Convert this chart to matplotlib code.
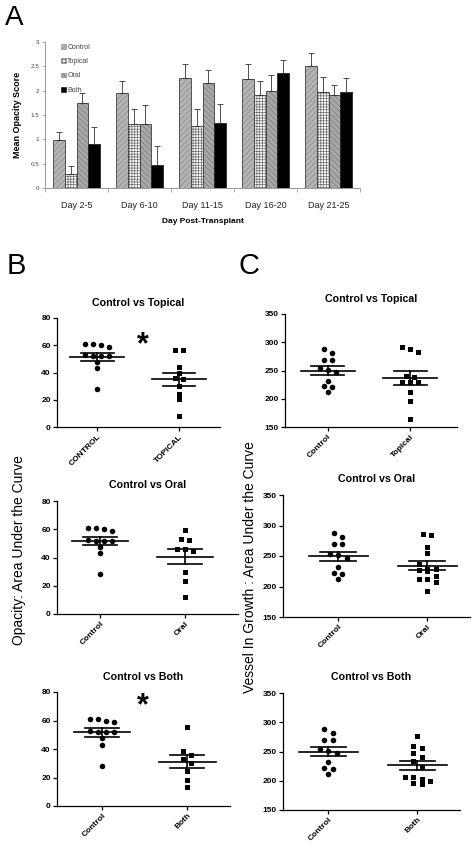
import numpy as np
import matplotlib
matplotlib.use("Agg")
import matplotlib.pyplot as plt
from matplotlib.patches import Patch

plt.rcParams['font.family'] = ['Liberation Sans', 'DejaVu Sans']
plt.rcParams['hatch.linewidth'] = 0.5

W, H = 476, 848

# ---- panel A: mean opacity score per period ----
days = ["Day 2-5", "Day 6-10", "Day 11-15", "Day 16-20", "Day 21-25"]
groups = ["Control", "Topical", "Oral", "Both"]
control_mean = [0.98, 1.96, 2.26, 2.25, 2.51]
topical_mean = [0.29, 1.32, 1.27, 1.92, 1.97]
oral_mean = [1.75, 1.32, 2.16, 2.00, 1.91]
both_mean = [0.90, 0.48, 1.33, 2.36, 1.97]
control_err = [0.17, 0.24, 0.29, 0.30, 0.26]
topical_err = [0.17, 0.30, 0.36, 0.28, 0.31]
oral_err = [0.20, 0.39, 0.26, 0.32, 0.21]
both_err = [0.35, 0.38, 0.40, 0.28, 0.29]

# ---- panel B: opacity AUC ----
opacity_control = [61, 61, 60, 59, 52.5, 52, 52, 52, 47.5, 43, 28]
opacity_topical = [56.6, 56.6, 44.3, 39.9, 35.7, 35, 30.3, 24.4, 20.4, 8.1]
opacity_oral = [59.2, 53, 52.1, 46, 46, 44.8, 30, 23.1, 12]
opacity_both = [55.4, 38.4, 35.6, 32.7, 30.2, 24.3, 18.5, 13.3]

# ---- panel C: vessel in-growth AUC ----
vessel_control = [288, 281, 269, 269, 254, 251, 247, 232, 222, 220, 212]
vessel_topical = [292, 288, 283, 240, 239, 230, 230, 230, 212, 196, 165]
vessel_oral = [286, 285, 265, 255, 237, 229, 228, 227, 226, 218, 213, 212, 208, 192]
vessel_both = [277, 260, 256, 247, 241, 233, 224, 207, 206, 203, 200, 197, 194]


def px_axes(fig, left, top, right, bottom):
    return fig.add_axes([left / W, 1 - bottom / H, (right - left) / W, (bottom - top) / H])


def swarm(vals, bin_w, dx):
    # spread points with close values side by side, like a scatter dot plot
    vals = np.asarray(vals, dtype=float)
    order = np.argsort(-vals)
    offs = np.zeros(len(vals))
    i = 0
    while i < len(order):
        j = i
        while j + 1 < len(order) and vals[order[i]] - vals[order[j + 1]] <= bin_w:
            j += 1
        n = j - i + 1
        offs[order[i:j + 1]] = (np.arange(n) - (n - 1) / 2) * dx
        i = j + 1
    return offs


fig = plt.figure(figsize=(W / 100, H / 100), dpi=100)

# ---------------- Panel A ----------------
ax = px_axes(fig, 45, 42, 360, 188)
x = np.arange(len(days))
bw = 0.185
means = [control_mean, topical_mean, oral_mean, both_mean]
errs = [control_err, topical_err, oral_err, both_err]
faces = ['#b4b4b4', 'white', '#a8a8a8', 'black']
hatches = ['//////', '++++++', '\\\\\\\\\\\\', None]
hcols = ['#8a8a8a', '#6a6a6a', '#7a7a7a', 'black']
for k in range(4):
    xs = x + (k - 1.5) * bw
    ax.bar(xs, means[k], width=bw, color=faces[k], hatch=hatches[k],
           edgecolor=hcols[k], linewidth=0.4, label=groups[k])
    ax.bar(xs, means[k], width=bw, fill=False, edgecolor='#333333', linewidth=0.5)
    ax.errorbar(xs, means[k], yerr=[np.zeros(5), errs[k]], fmt='none',
                ecolor='#333333', elinewidth=0.6, capsize=2, capthick=0.6)
ax.set_xlim(-0.5, 4.5)
ax.set_ylim(0, 3)
ax.set_yticks([0, 0.5, 1, 1.5, 2, 2.5, 3])
ax.set_yticklabels(['0', '0.5', '1', '1.5', '2', '2.5', '3'])
ax.set_xticks(x)
ax.set_xticklabels(days)
ax.set_xticks(np.arange(-0.5, 5, 1), minor=True)
ax.tick_params(axis='x', which='major', length=0, labelsize=6.5, pad=9, colors='#222222')
ax.tick_params(axis='x', which='minor', length=3, width=0.5, color='#888888')
ax.tick_params(axis='y', length=2, width=0.5, labelsize=4.5, pad=2, color='#888888',
               labelcolor='#444444')
for s in ['top', 'right']:
    ax.spines[s].set_visible(False)
for s in ['left', 'bottom']:
    ax.spines[s].set_color('#888888')
    ax.spines[s].set_linewidth(0.6)
ax.set_ylabel('Mean Opacity Score', fontsize=6.5, fontweight='bold', labelpad=6)
ax.set_xlabel('Day Post-Transplant', fontsize=6, fontweight='bold', labelpad=6)
handles = [Patch(facecolor=faces[k], hatch=hatches[k], edgecolor=hcols[k], linewidth=0.4)
           for k in range(4)]
ax.legend(handles, groups, loc='upper left', bbox_to_anchor=(0.03, 1.03), frameon=False,
          fontsize=5, handlelength=0.7, handleheight=0.7, labelspacing=1.05,
          handletextpad=0.25, labelcolor='#444444')

fig.text(5 / W, 1 - 5 / H, 'A', fontsize=20, va='top', ha='left')
fig.text(7 / W, 1 - 252 / H, 'B', fontsize=21, va='top', ha='left')
fig.text(239 / W, 1 - 252 / H, 'C', fontsize=21, va='top', ha='left')


def scatter_panel(box, xlim, title, cats, left_vals, right_vals, ylim, yticks, bin_w, star=None):
    a = px_axes(fig, *box)
    for pos, vals, mk, ms in [(1, left_vals, 'o', 4.0), (2, right_vals, 's', 3.6)]:
        offs = swarm(vals, bin_w, 0.095)
        a.plot(pos + offs, vals, linestyle='none', marker=mk, markersize=ms,
               color='black', markeredgewidth=0, clip_on=False)
        m = np.mean(vals)
        sem = np.std(vals, ddof=1) / np.sqrt(len(vals))
        a.plot([pos - 0.33, pos + 0.33], [m, m], color='black', lw=1.2)
        a.plot([pos - 0.2, pos + 0.2], [m + sem, m + sem], color='black', lw=1.2)
        a.plot([pos - 0.2, pos + 0.2], [m - sem, m - sem], color='black', lw=1.2)
        a.plot([pos, pos], [m - sem, m + sem], color='black', lw=1.2)
    a.set_xlim(*xlim)
    a.set_ylim(*ylim)
    a.set_yticks(yticks)
    a.set_xticks([1, 2])
    a.set_xticklabels(cats, rotation=45, ha='right', va='top', rotation_mode='anchor')
    for s in ['top', 'right']:
        a.spines[s].set_visible(False)
    for s in ['left', 'bottom']:
        a.spines[s].set_linewidth(0.9)
    a.tick_params(length=3, width=0.9, labelsize=6, pad=1.5)
    for lab in a.get_xticklabels() + a.get_yticklabels():
        lab.set_fontweight('bold')
    a.set_title(title, fontsize=7.7, fontweight='bold', pad=9)
    if star is not None:
        a.text(star[0], star[1], '*', fontsize=22, fontweight='bold', ha='center', va='center')
    return a


scatter_panel((57, 318, 220, 427), (0.51, 2.5), 'Control vs Topical', ['CONTROL', 'TOPICAL'],
              opacity_control, opacity_topical, (0, 80), [0, 20, 40, 60, 80], 3.5, star=(1.56, 60))
scatter_panel((57, 501, 238, 614), (0.49, 2.62), 'Control vs Oral', ['Control', 'Oral'],
              opacity_control, opacity_oral, (0, 80), [0, 20, 40, 60, 80], 3.5)
scatter_panel((57, 692, 230, 806), (0.47, 2.5), 'Control vs Both', ['Control', 'Both'],
              opacity_control, opacity_both, (0, 80), [0, 20, 40, 60, 80], 3.5, star=(1.48, 70))

scatter_panel((285, 314, 457, 427), (0.48, 2.57), 'Control vs Topical', ['Control', 'Topical'],
              vessel_control, vessel_topical, (150, 350), [150, 200, 250, 300, 350], 9)
scatter_panel((283, 495, 470, 617), (0.38, 2.48), 'Control vs Oral', ['Control', 'Oral'],
              vessel_control, vessel_oral, (150, 350), [150, 200, 250, 300, 350], 9)
scatter_panel((283, 693, 460, 810), (0.49, 2.48), 'Control vs Both', ['Control', 'Both'],
              vessel_control, vessel_both, (150, 350), [150, 200, 250, 300, 350], 9)

fig.text(19 / W, 1 - 550 / H, 'Opacity: Area Under the Curve', rotation=90,
         fontsize=10, ha='center', va='center')
fig.text(250 / W, 1 - 567 / H, 'Vessel In Growth : Area Under the Curve', rotation=90,
         fontsize=10, ha='center', va='center')

fig.savefig('out.png', dpi=100)
